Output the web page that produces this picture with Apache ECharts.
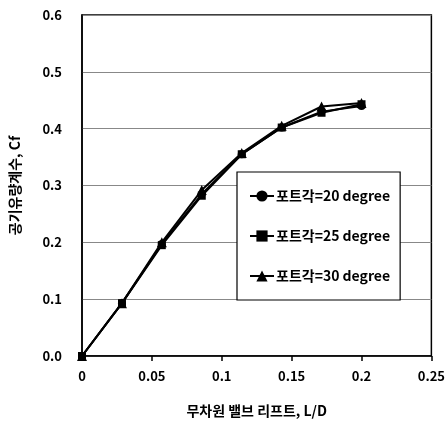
<!DOCTYPE html>
<html>
<head>
<meta charset="utf-8">
<script src="https://cdn.jsdelivr.net/npm/echarts@6/dist/echarts.min.js"></script>
<style>
  html, body { margin: 0; padding: 0; background: #fff; }
  #chart { width: 448px; height: 427px; }
</style>
</head>
<body>
<div id="chart"></div>
<script>
// 무차원 밸브 리프트 L/D
const lift = [0, 0.0286, 0.0571, 0.0857, 0.1143, 0.1429, 0.1714, 0.2]
// 공기유량계수 Cf
const cf20 = [0, 0.093, 0.197, 0.285, 0.355, 0.402, 0.430, 0.440]
const cf25 = [0, 0.093, 0.195, 0.282, 0.355, 0.402, 0.428, 0.443]
const cf30 = [0, 0.093, 0.200, 0.292, 0.357, 0.405, 0.439, 0.445]

const names = ['포트각=20 degree', '포트각=25 degree', '포트각=30 degree']
const symbols = ['circle', 'rect', 'triangle']
const values = [cf20, cf25, cf30]

const font = '"Noto Sans CJK KR", "Noto Sans", sans-serif'

const chart = echarts.init(document.getElementById('chart'))

chart.setOption({
  animation: false,
  textStyle: { fontFamily: font },
  grid: {
    left: 82, right: 15, top: 15, bottom: 71,
    show: true, borderColor: '#000', borderWidth: 1.5
  },
  legend: {
    orient: 'vertical',
    left: 237, top: 172,
    width: 178,
    padding: [17, 10, 17, 12],
    itemGap: 26,
    itemWidth: 24, itemHeight: 14,
    borderColor: '#000', borderWidth: 1.2,
    backgroundColor: '#fff',
    textStyle: { fontFamily: font, fontSize: 14, fontWeight: 'bold', color: '#000', padding: [0, 0, 0, -3] },
    data: names
  },
  xAxis: {
    type: 'value',
    min: 0, max: 0.25, interval: 0.05,
    name: '무차원 밸브 리프트, L/D',
    nameLocation: 'middle', nameGap: 48,
    nameTextStyle: { fontSize: 14, fontWeight: 'bold', color: '#000' },
    axisLine: { lineStyle: { color: '#000', width: 1.5 } },
    axisTick: { show: true, length: 5, lineStyle: { color: '#000', width: 1.5 } },
    axisLabel: { fontSize: 13, fontWeight: 'bold', color: '#000', margin: 14 },
    splitLine: { show: false }
  },
  yAxis: {
    type: 'value',
    min: 0, max: 0.6, interval: 0.1,
    name: '공기유량계수, Cf',
    nameLocation: 'middle', nameGap: 60,
    nameTextStyle: { fontSize: 14, fontWeight: 'bold', color: '#000' },
    axisLine: { show: true, lineStyle: { color: '#000', width: 1.5 } },
    axisTick: { show: false },
    axisLabel: {
      fontSize: 13, fontWeight: 'bold', color: '#000', margin: 20,
      formatter: v => v.toFixed(1)
    },
    splitLine: { lineStyle: { color: '#888', width: 1 } }
  },
  series: names.map((n, i) => ({
    name: n,
    type: 'line',
    data: lift.map((x, j) => [x, values[i][j]]),
    symbol: symbols[i],
    symbolSize: i === 2 ? 10 : 8,
    lineStyle: { color: '#000', width: 2 },
    itemStyle: { color: '#000' }
  }))
})
</script>
</body>
</html>
